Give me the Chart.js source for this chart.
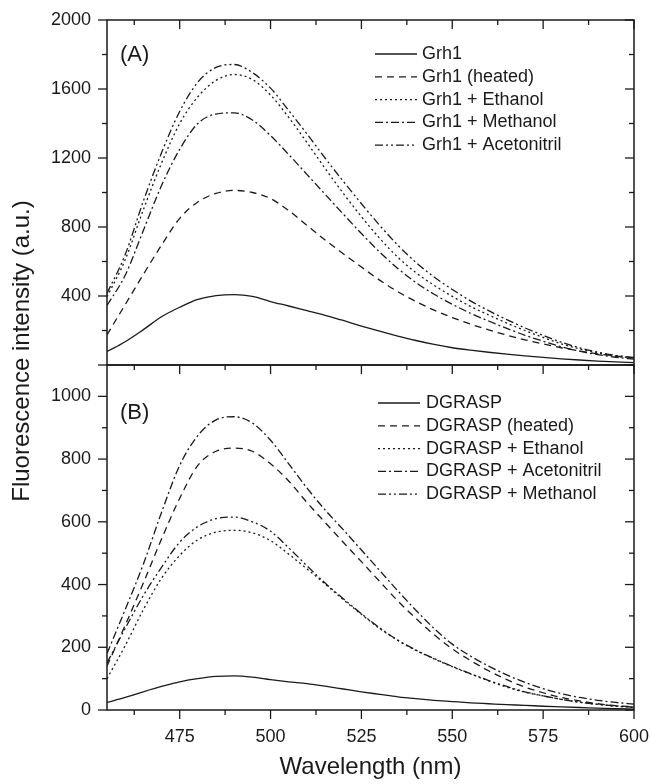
<!DOCTYPE html>
<html>
<head>
<meta charset="utf-8">
<script src="https://cdn.jsdelivr.net/npm/chart.js@4.4.1/dist/chart.umd.min.js"></script>
<style>
  html, body { margin: 0; padding: 0; background: #fff; }
  #wrap { width: 650px; height: 784px; position: relative; }
</style>
</head>
<body>
<div id="wrap"><canvas id="chart"></canvas></div>
<script>
// wavelength grid (nm)
const wavelength = [455, 460, 465, 470, 475, 480, 485, 490, 495, 500, 505, 510, 515, 520, 525,
  530, 535, 540, 545, 550, 555, 560, 565, 570, 575, 580, 585, 590, 595, 600];

// panel (A)
const grh1 = [78, 135, 205, 280, 335, 380, 402, 408, 398, 368, 342, 315, 288, 258, 226,
  196, 168, 142, 119, 100, 86, 74, 63, 53, 44, 36, 29, 23, 18, 14];
const grh1Heated = [175, 350, 525, 695, 850, 945, 995, 1012, 1000, 965, 895, 810, 725, 645, 568,
  492, 425, 368, 318, 275, 237, 204, 173, 146, 122, 100, 81, 65, 52, 40];
const grh1Ethanol = [395, 610, 900, 1170, 1400, 1555, 1650, 1684, 1655, 1565, 1435, 1290, 1140, 995, 860,
  735, 625, 535, 462, 398, 340, 290, 243, 200, 160, 123, 93, 70, 52, 40];
const grh1Methanol = [345, 520, 780, 1040, 1250, 1400, 1455, 1462, 1420, 1330, 1220, 1105, 990, 875, 762,
  655, 560, 478, 410, 352, 300, 255, 212, 172, 138, 106, 80, 60, 45, 34];
const grh1Acetonitril = [415, 640, 950, 1230, 1470, 1640, 1725, 1742, 1695, 1605, 1475, 1340, 1200, 1065, 935,
  810, 695, 595, 510, 438, 372, 315, 263, 215, 172, 132, 100, 75, 56, 44];

// panel (B)
const dgrasp = [24, 40, 58, 75, 90, 100, 107, 109, 105, 97, 90, 84, 76, 67, 58,
  50, 42, 36, 31, 27, 23, 20, 17, 15, 12, 10, 8, 6, 4, 3];
const dgraspHeated = [140, 270, 405, 545, 675, 780, 825, 835, 825, 785, 730, 662, 598, 535, 473,
  410, 348, 292, 240, 195, 158, 125, 97, 73, 55, 40, 29, 20, 14, 10];
const dgraspEthanol = [100, 205, 320, 420, 493, 543, 567, 573, 565, 540, 497, 450, 402, 352, 305,
  260, 222, 190, 163, 138, 115, 93, 73, 57, 45, 34, 25, 18, 12, 8];
const dgraspAcetonitril = [180, 320, 465, 630, 780, 875, 925, 935, 915, 860, 785, 708, 638, 575, 510,
  445, 380, 318, 260, 210, 172, 140, 112, 88, 68, 52, 40, 31, 24, 19];
const dgraspMethanol = [150, 260, 365, 455, 535, 585, 610, 615, 600, 570, 517, 460, 405, 355, 307,
  262, 223, 191, 164, 139, 116, 94, 75, 58, 45, 34, 25, 18, 13, 9];

// tick labels
const xTicks = [475, 500, 525, 550, 575, 600];
const yTicksA = [0, 400, 800, 1200, 1600, 2000];
const yTicksB = [0, 200, 400, 600, 800, 1000];

const FONT = "'Liberation Sans', Arial, Helvetica, sans-serif";
const INK = '#1a1a1a';
const SOLID = [];
const DASH = [7, 5];
const DOT = [2, 3];
const DASHDOT = [8, 3, 2, 3];
const DASHDOTDOT = [8, 3, 2, 3, 2, 3];

const pts = vals => wavelength.map((w, i) => ({ x: w, y: vals[i] }));
const line = (label, vals, dash, axis) => ({
  label, data: pts(vals), yAxisID: axis, borderDash: dash,
  borderColor: INK, borderWidth: 1.3, pointRadius: 0, fill: false,
  cubicInterpolationMode: 'monotone'
});

const datasets = [
  line('Grh1', grh1, SOLID, 'yA'),
  line('Grh1 (heated)', grh1Heated, DASH, 'yA'),
  line('Grh1 + Ethanol', grh1Ethanol, DOT, 'yA'),
  line('Grh1 + Methanol', grh1Methanol, DASHDOT, 'yA'),
  line('Grh1 + Acetonitril', grh1Acetonitril, DASHDOTDOT, 'yA'),
  line('DGRASP', dgrasp, SOLID, 'yB'),
  line('DGRASP (heated)', dgraspHeated, DASH, 'yB'),
  line('DGRASP + Ethanol', dgraspEthanol, DOT, 'yB'),
  line('DGRASP + Acetonitril', dgraspAcetonitril, DASHDOT, 'yB'),
  line('DGRASP + Methanol', dgraspMethanol, DASHDOTDOT, 'yB')
];

const tickFont = { family: FONT, size: 18 };
const yScale = (min, max, ticks) => ({
  type: 'linear', position: 'left', stack: 'panels', stackWeight: 1,
  min, max,
  grid: { display: false, drawTicks: true, tickLength: 10 },
  border: { display: false },
  ticks: {
    font: tickFont, color: INK, padding: 6,
    callback: v => (ticks === yTicksA && v === 0) ? '' : String(v)
  },
  afterBuildTicks: s => { s.ticks = ticks.map(v => ({ value: v })); },
  afterFit: s => { s.width = 107; s.paddingTop = 0; s.paddingBottom = 0; }
});

const frame = {
  id: 'frame',
  afterDraw(chart) {
    const { ctx } = chart;
    const x = chart.scales.x, ya = chart.scales.yA, yb = chart.scales.yB;
    const L = x.left, R = x.right;
    ctx.save();
    ctx.strokeStyle = INK;
    ctx.lineWidth = 1.5;
    [ya, yb].forEach(s => ctx.strokeRect(L, s.top, R - L, s.bottom - s.top));

    ctx.lineWidth = 1.3;
    const tick = (x1, y1, x2, y2) => { ctx.beginPath(); ctx.moveTo(x1, y1); ctx.lineTo(x2, y2); ctx.stroke(); };
    for (let v = 462.5; v <= 600; v += 12.5) {
      const px = x.getPixelForValue(v);
      const len = v % 25 === 0 ? 9 : 5;
      tick(px, ya.top, px, ya.top + len);
      tick(px, yb.top, px, yb.top + len);
      tick(px, yb.bottom, px, yb.bottom + len);
    }
    [[ya, 200, 400], [yb, 100, 200]].forEach(([s, minor, major]) => {
      for (let v = 0; v < s.max + 1; v += minor) {
        if (v > 1000 && s === yb) continue;
        const py = s.getPixelForValue(v);
        const len = v % major === 0 ? 9 : 5;
        tick(L - len, py, L, py);
        tick(R - len, py, R, py);
      }
    });

    // panel letters
    ctx.fillStyle = INK;
    ctx.textBaseline = 'middle';
    ctx.textAlign = 'left';
    ctx.font = `22px ${FONT}`;
    ctx.fillText('(A)', L + 13, ya.top + 35);
    ctx.fillText('(B)', L + 13, yb.top + 48);

    // legends
    ctx.font = `18px ${FONT}`;
    const legend = (sets, top, x1, x2, tx) => {
      sets.forEach((ds, i) => {
        const y = top + i * 22.8;
        ctx.setLineDash(ds.borderDash);
        ctx.lineWidth = 1.3;
        tick(x1, y, x2, y);
        ctx.setLineDash([]);
        ctx.fillText(ds.label, tx, y);
      });
    };
    const ds = chart.data.datasets;
    legend(ds.slice(0, 5), ya.top + 34, R - 259, R - 217, R - 212);
    legend(ds.slice(5), yb.top + 38, R - 256, R - 214, R - 208);

    // shared y title
    ctx.save();
    ctx.translate(22, (ya.top + yb.bottom) / 2 - 14);
    ctx.rotate(-Math.PI / 2);
    ctx.textAlign = 'center';
    ctx.font = `24px ${FONT}`;
    ctx.fillText('Fluorescence intensity (a.u.)', 0, 0);
    ctx.restore();
    ctx.restore();
  }
};

new Chart(document.getElementById('chart'), {
  type: 'line',
  data: { datasets },
  options: {
    responsive: true,
    maintainAspectRatio: false,
    animation: false,
    devicePixelRatio: 1,
    layout: { padding: { top: 20, right: 16, bottom: 0, left: 0 } },
    plugins: { legend: { display: false }, tooltip: { enabled: false } },
    scales: {
      x: {
        type: 'linear', position: 'bottom', min: 455, max: 600,
        grid: { display: false, drawTicks: true, tickLength: 10 },
        border: { display: false },
        ticks: { font: tickFont, color: INK, padding: 6, maxRotation: 0 },
        afterBuildTicks: s => { s.ticks = xTicks.map(v => ({ value: v })); },
        afterFit: s => { s.height = 74; s.paddingLeft = 0; s.paddingRight = 0; },
        title: {
          display: true, text: 'Wavelength (nm)', color: INK,
          font: { family: FONT, size: 24 }, padding: { top: 0, bottom: 2 }
        }
      },
      // stacked left axes are laid out in reverse order, so (B) goes first to end up at the bottom
      yB: yScale(0, 1100, yTicksB),
      yA: yScale(0, 2000, yTicksA)
    }
  },
  plugins: [frame]
});
</script>
</body>
</html>
